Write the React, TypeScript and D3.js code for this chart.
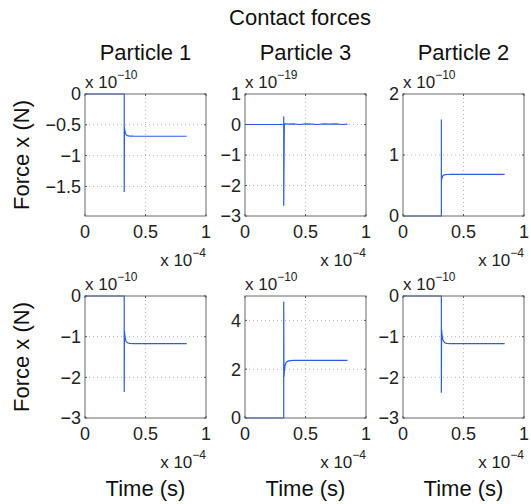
import React from "react";
import * as d3 from "d3";

// time in units of 1e-4 s, force in units of the panel exponent
const columnTitles = ["Particle 1", "Particle 3", "Particle 2"];
const xTicks = [0, 0.5, 1];

const p1Time = [0, 0.324, 0.324, 0.326, 0.33, 0.335, 0.34, 0.35, 0.37, 0.4, 0.5, 0.6, 0.7, 0.84];
const p1Force = [0, 0, -1.59, -0.55, -0.6, -0.64, -0.66, -0.675, -0.683, -0.685, -0.686, -0.686, -0.686, -0.686];

const p3Time = [0, 0.32, 0.32, 0.32, 0.325, 0.36, 0.4, 0.45, 0.5, 0.55, 0.6, 0.65, 0.7, 0.75, 0.8, 0.847];
const p3Force = [0, 0, 0.26, -2.66, 0.03, 0.01, 0.02, 0.0, 0.02, 0.01, 0.0, 0.02, 0.01, 0.02, 0.0, 0.01];

const p2Time = [0, 0.317, 0.317, 0.317, 0.32, 0.325, 0.33, 0.34, 0.36, 0.4, 0.5, 0.6, 0.7, 0.84];
const p2Force = [0, 0, 1.58, 0.58, 0.61, 0.64, 0.66, 0.675, 0.68, 0.683, 0.684, 0.684, 0.684, 0.684];

const q1Time = [0, 0.324, 0.324, 0.326, 0.33, 0.335, 0.34, 0.35, 0.37, 0.4, 0.5, 0.6, 0.7, 0.84];
const q1Force = [0, 0, -2.36, -0.86, -0.98, -1.07, -1.12, -1.15, -1.165, -1.17, -1.17, -1.17, -1.17, -1.17];

const q3Time = [0, 0.32, 0.32, 0.322, 0.326, 0.33, 0.335, 0.345, 0.36, 0.4, 0.5, 0.6, 0.7, 0.847];
const q3Force = [0, 0, 4.77, 1.68, 1.95, 2.12, 2.23, 2.3, 2.34, 2.36, 2.36, 2.36, 2.36, 2.36];

const q2Time = [0, 0.317, 0.317, 0.319, 0.323, 0.328, 0.335, 0.345, 0.36, 0.4, 0.5, 0.6, 0.7, 0.84];
const q2Force = [0, 0, -2.38, -0.84, -0.97, -1.06, -1.12, -1.15, -1.165, -1.17, -1.17, -1.17, -1.17, -1.17];

const panels = [
  { t: p1Time, f: p1Force, yDomain: [-1.98, 0], yTicks: [0, -0.5, -1, -1.5], yExp: "−10" },
  { t: p3Time, f: p3Force, yDomain: [-3, 1], yTicks: [1, 0, -1, -2, -3], yExp: "−19" },
  { t: p2Time, f: p2Force, yDomain: [0, 2], yTicks: [0, 1, 2], yExp: "−10" },
  { t: q1Time, f: q1Force, yDomain: [-3, 0], yTicks: [0, -1, -2, -3], yExp: "−10" },
  { t: q3Time, f: q3Force, yDomain: [0, 5], yTicks: [0, 2, 4], yExp: "−10" },
  { t: q2Time, f: q2Force, yDomain: [-3, 0], yTicks: [0, -1, -2, -3], yExp: "−10" },
];

const W = 531;
const H = 504;
const lefts = [85, 245, 403];
const tops = [94, 296];
const bw = 121;
const bh = 122;
const font = "'Liberation Sans', Arial, Helvetica, sans-serif";
const lineColor = "#2a5ce8";

const fmt = (v: number) => (v < 0 ? "−" + String(-v) : String(v));

const Panel = ({ p, left, top, title }: any) => {
  const x = d3.scaleLinear().domain([0, 1]).range([0, bw]);
  const y = d3.scaleLinear().domain(p.yDomain).range([bh, 0]);
  const line = d3
    .line<number>()
    .x((_, i) => x(p.t[i]))
    .y((d) => y(d));
  const [y0, y1] = p.yDomain;
  return (
    <g transform={`translate(${left},${top})`}>
      {/* grid */}
      {p.yTicks
        .filter((v: number) => v > Math.min(y0, y1) && v < Math.max(y0, y1))
        .map((v: number) => (
          <line key={"gy" + v} x1={0} x2={bw} y1={y(v)} y2={y(v)} stroke="#b8b8b8" strokeDasharray="1,3" />
        ))}
      {xTicks
        .filter((v) => v > 0 && v < 1)
        .map((v) => (
          <line key={"gx" + v} x1={x(v)} x2={x(v)} y1={0} y2={bh} stroke="#b8b8b8" strokeDasharray="1,3" />
        ))}
      <path d={line(p.f) || ""} fill="none" stroke={lineColor} strokeWidth={1.2} />
      <rect x={0} y={0} width={bw} height={bh} fill="none" stroke="#6a6a6a" strokeWidth={1} />
      {/* ticks */}
      {p.yTicks.map((v: number) => (
        <g key={"ty" + v}>
          <line x1={0} x2={2} y1={y(v)} y2={y(v)} stroke="#555" />
          <line x1={bw - 2} x2={bw} y1={y(v)} y2={y(v)} stroke="#555" />
          <text x={-4} y={y(v)} dy="0.35em" textAnchor="end" fontSize={18} fontFamily={font} fill="#222">
            {fmt(v)}
          </text>
        </g>
      ))}
      {xTicks.map((v) => (
        <g key={"tx" + v}>
          <line x1={x(v)} x2={x(v)} y1={bh} y2={bh - 2} stroke="#555" />
          <line x1={x(v)} x2={x(v)} y1={0} y2={2} stroke="#555" />
          <text x={x(v)} y={bh + 22} textAnchor="middle" fontSize={18} fontFamily={font} fill="#222">
            {fmt(v)}
          </text>
        </g>
      ))}
      {/* y exponent */}
      <text x={0} y={-6} fontSize={17} fontFamily={font} fill="#222">
        x 10<tspan dy={-9} fontSize={12}>{p.yExp}</tspan>
      </text>
      {/* x exponent */}
      <text x={bw} y={bh + 50} textAnchor="end" fontSize={17} fontFamily={font} fill="#222">
        x 10<tspan dy={-9} fontSize={12}>−4</tspan>
      </text>
      {title && (
        <text x={bw / 2} y={-34} textAnchor="middle" fontSize={22} fontFamily={font} fill="#111">
          {title}
        </text>
      )}
    </g>
  );
};

export default function App() {
  return (
    <svg width={W} height={H} style={{ display: "block", position: "absolute", left: 0, top: 0 }}>
      <rect width={W} height={H} fill="#fff" />
      <text x={300} y={25} textAnchor="middle" fontSize={22} fontFamily={font} fill="#111">
        Contact forces
      </text>
      {panels.map((p, i) => {
        const col = i % 3;
        const row = Math.floor(i / 3);
        return (
          <Panel key={i} p={p} left={lefts[col]} top={tops[row]} title={row === 0 ? columnTitles[col] : null} />
        );
      })}
      {tops.map((tp) => (
        <text
          key={"yl" + tp}
          transform={`translate(29,${tp + bh / 2}) rotate(-90)`}
          textAnchor="middle"
          fontSize={22}
          fontFamily={font}
          fill="#111"
        >
          Force x (N)
        </text>
      ))}
      {lefts.map((l) => (
        <text key={"xl" + l} x={l + bw / 2} y={496} textAnchor="middle" fontSize={22} fontFamily={font} fill="#111">
          Time (s)
        </text>
      ))}
    </svg>
  );
}
